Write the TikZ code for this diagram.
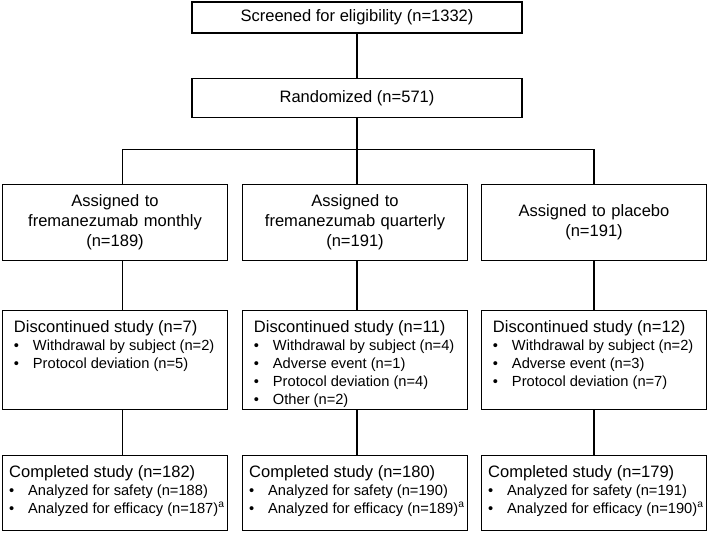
\documentclass[tikz,border=0pt]{standalone}
\usepackage{fontspec}
\setmainfont{Liberation Sans}
\usetikzlibrary{positioning}

\newcommand{\bul}[1]{\par\fontsize{11}{13.4}\selectfont\makebox[14.25pt][l]{\textbullet}#1}
\newcommand{\listtext}[4]{%
  \parbox[c][#1][t]{168.75pt}{\vspace*{7pt}\raggedright\leftskip=#2\relax #3\par\vspace{0.4pt}#4}}

\begin{document}
\begin{tikzpicture}[
    topbox/.style={draw, line width=0.9pt, inner sep=0pt, outer sep=0pt, minimum width=247.5pt, font=\fontsize{12.4}{15}\selectfont},
    armbox/.style={draw, line width=0.9pt, inner sep=0pt, outer sep=0pt, text width=168.75pt, minimum height=57pt, align=center, font=\fontsize{12.4}{15}\selectfont},
    listbox/.style={draw, line width=0.9pt, inner sep=0pt, outer sep=0pt, font=\fontsize{12.4}{15}\selectfont},
    link/.style={line width=0.9pt}
  ]
  \useasboundingbox (0,0) rectangle (531.75pt,-399pt);

  \node[topbox, minimum height=23.25pt] (scr) at (267.75pt,-13.1pt) {Screened for eligibility (n=1332)};
  \node[topbox, minimum height=29.25pt] (rnd) [below=34.3pt of scr] {Randomized (n=571)};

  \node[armbox] (asg2) [below=50.25pt of rnd, xshift=-1.5pt] {Assigned to\\fremanezumab quarterly\\(n=191)};
  \node[armbox] (asg1) [left=11.25pt of asg2] {Assigned to\\fremanezumab monthly\\(n=189)};
  \node[armbox] (asg3) [right=10.5pt of asg2] {Assigned to placebo\\(n=191)};

  \node[listbox] (dsc1) [below=37.5pt of asg1] {\listtext{74.25pt}{8.6pt}{Discontinued study (n=7)}{%
    \bul{Withdrawal by subject (n=2)}\bul{Protocol deviation (n=5)}}};
  \node[listbox] (dsc2) [below=37.5pt of asg2] {\listtext{74.25pt}{8.6pt}{Discontinued study (n=11)}{%
    \bul{Withdrawal by subject (n=4)}\bul{Adverse event (n=1)}\bul{Protocol deviation (n=4)}\bul{Other (n=2)}}};
  \node[listbox] (dsc3) [below=37.5pt of asg3] {\listtext{74.25pt}{8.6pt}{Discontinued study (n=12)}{%
    \bul{Withdrawal by subject (n=2)}\bul{Adverse event (n=3)}\bul{Protocol deviation (n=7)}}};

  \node[listbox] (cmp1) [below=34.5pt of dsc1] {\listtext{56.25pt}{5pt}{Completed study (n=182)}{%
    \bul{Analyzed for safety (n=188)}\bul{Analyzed for efficacy (n=187)\textsuperscript{a}}}};
  \node[listbox] (cmp2) [below=34.5pt of dsc2] {\listtext{56.25pt}{5pt}{Completed study (n=180)}{%
    \bul{Analyzed for safety (n=190)}\bul{Analyzed for efficacy (n=189)\textsuperscript{a}}}};
  \node[listbox] (cmp3) [below=34.5pt of dsc3] {\listtext{56.25pt}{5pt}{Completed study (n=179)}{%
    \bul{Analyzed for safety (n=191)}\bul{Analyzed for efficacy (n=190)\textsuperscript{a}}}};

  % connectors
  \coordinate (br) at ([yshift=-24pt]rnd.south);
  \coordinate (c1) at ([xshift=5.6pt]asg1.north);
  \draw[link] (scr.south) -- (rnd.north);
  \draw[link] (rnd.south) -- (rnd.south |- asg2.north);
  \draw[link] (c1) |- (br) -| (asg3.north);

  \draw[link] (c1 |- asg1.south) -- (c1 |- dsc1.north);
  \draw[link] (c1 |- dsc1.south) -- (c1 |- cmp1.north);
  \draw[link] (rnd.south |- asg2.south) -- (rnd.south |- dsc2.north);
  \draw[link] (rnd.south |- dsc2.south) -- (rnd.south |- cmp2.north);
  \draw[link] (asg3.south) -- (asg3.south |- dsc3.north);
  \draw[link] (asg3.south |- dsc3.south) -- (asg3.south |- cmp3.north);
\end{tikzpicture}
\end{document}
